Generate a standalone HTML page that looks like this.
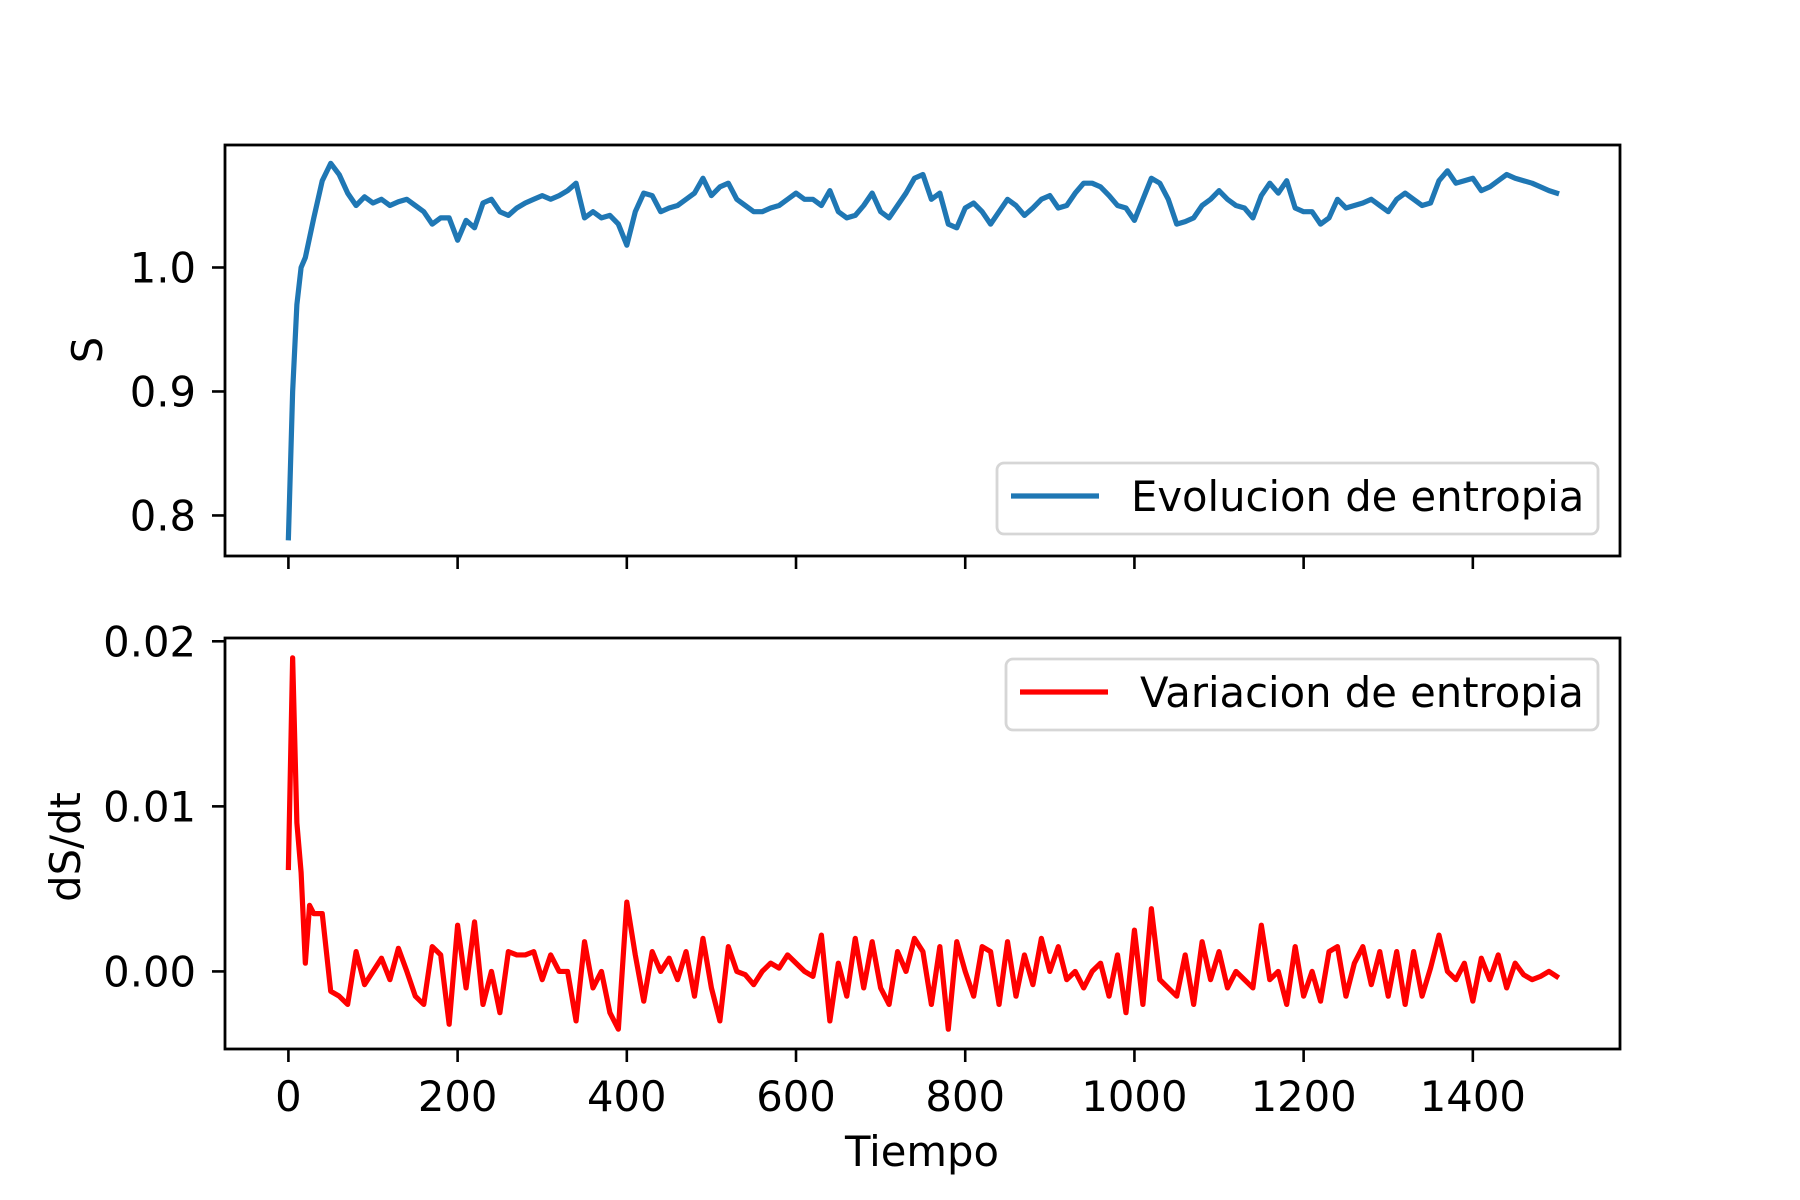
<!DOCTYPE html>
<html><head><meta charset="utf-8"><style>
html,body{margin:0;padding:0;background:#fff;}
svg{display:block;font-family:"DejaVu Sans","Liberation Sans",sans-serif;}
</style></head><body>
<svg id="fig" width="1800" height="1200" viewBox="0 0 1800 1200">
<rect width="1800" height="1200" fill="#fff"/>
<g id="top"></g>
<g id="bot"></g>
<text x="922" y="1166" font-size="41.7" text-anchor="middle">Tiempo</text>
<text transform="translate(102,350) rotate(-90)" font-size="41.7" text-anchor="middle">S</text>
<text transform="translate(80,847) rotate(-90)" font-size="41.7" text-anchor="middle">dS/dt</text>
</svg>
<script>
const sTimes=[0,5,10,15,20,30,40,50,60,70,80,90,100,110,120,130,140,150,160,170,180,190,200,210,220,230,240,250,260,270,280,290,300,310,320,330,340,350,360,370,380,390,400,410,420,430,440,450,460,470,480,490,500,510,520,530,540,550,560,570,580,590,600,610,620,630,640,650,660,670,680,690,700,710,720,730,740,750,760,770,780,790,800,810,820,830,840,850,860,870,880,890,900,910,920,930,940,950,960,970,980,990,1000,1010,1020,1030,1040,1050,1060,1070,1080,1090,1100,1110,1120,1130,1140,1150,1160,1170,1180,1190,1200,1210,1220,1230,1240,1250,1260,1270,1280,1290,1300,1310,1320,1330,1340,1350,1360,1370,1380,1390,1400,1410,1420,1430,1440,1450,1460,1470,1480,1490,1499];
const sValues=[0.782,0.90,0.97,1.0,1.008,1.04,1.07,1.084,1.075,1.06,1.05,1.057,1.052,1.055,1.05,1.053,1.055,1.05,1.045,1.035,1.04,1.04,1.022,1.038,1.032,1.052,1.055,1.045,1.042,1.048,1.052,1.055,1.058,1.055,1.058,1.062,1.068,1.04,1.045,1.04,1.042,1.035,1.018,1.045,1.06,1.058,1.045,1.048,1.05,1.055,1.06,1.072,1.058,1.065,1.068,1.055,1.05,1.045,1.045,1.048,1.05,1.055,1.06,1.055,1.055,1.05,1.062,1.045,1.04,1.042,1.05,1.06,1.045,1.04,1.05,1.06,1.072,1.075,1.055,1.06,1.035,1.032,1.048,1.052,1.045,1.035,1.045,1.055,1.05,1.042,1.048,1.055,1.058,1.048,1.05,1.06,1.068,1.068,1.065,1.058,1.05,1.048,1.038,1.055,1.072,1.068,1.055,1.035,1.037,1.04,1.05,1.055,1.062,1.055,1.05,1.048,1.04,1.058,1.068,1.06,1.07,1.048,1.045,1.045,1.035,1.04,1.055,1.048,1.05,1.052,1.055,1.05,1.045,1.055,1.06,1.055,1.05,1.052,1.07,1.078,1.068,1.07,1.072,1.062,1.065,1.07,1.075,1.072,1.07,1.068,1.065,1.062,1.06];
const dTimes=[0,5,10,15,20,25,30,40,50,60,70,80,90,100,110,120,130,140,150,160,170,180,190,200,210,220,230,240,250,260,270,280,290,300,310,320,330,340,350,360,370,380,390,400,410,420,430,440,450,460,470,480,490,500,510,520,530,540,550,560,570,580,590,600,610,620,630,640,650,660,670,680,690,700,710,720,730,740,750,760,770,780,790,800,810,820,830,840,850,860,870,880,890,900,910,920,930,940,950,960,970,980,990,1000,1010,1020,1030,1040,1050,1060,1070,1080,1090,1100,1110,1120,1130,1140,1150,1160,1170,1180,1190,1200,1210,1220,1230,1240,1250,1260,1270,1280,1290,1300,1310,1320,1330,1340,1350,1360,1370,1380,1390,1400,1410,1420,1430,1440,1450,1460,1470,1480,1490,1499];
const dValues=[0.0063,0.019,0.009,0.006,0.0005,0.004,0.0035,0.0035,-0.0012,-0.0015,-0.002,0.0012,-0.0008,0.0,0.0008,-0.0005,0.0014,0.0,-0.0015,-0.002,0.0015,0.001,-0.0032,0.0028,-0.001,0.003,-0.002,0.0,-0.0025,0.0012,0.001,0.001,0.0012,-0.0005,0.001,0.0,0.0,-0.003,0.0018,-0.001,0.0,-0.0025,-0.0035,0.0042,0.001,-0.0018,0.0012,0.0,0.0008,-0.0005,0.0012,-0.0015,0.002,-0.001,-0.003,0.0015,0.0,-0.0002,-0.0008,0.0,0.0005,0.0002,0.001,0.0005,0.0,-0.0003,0.0022,-0.003,0.0005,-0.0015,0.002,-0.001,0.0018,-0.001,-0.002,0.0012,0.0,0.002,0.0012,-0.002,0.0015,-0.0035,0.0018,0.0,-0.0015,0.0015,0.0012,-0.002,0.0018,-0.0015,0.001,-0.0008,0.002,0.0,0.0015,-0.0005,0.0,-0.001,0.0,0.0005,-0.0015,0.001,-0.0025,0.0025,-0.002,0.0038,-0.0005,-0.001,-0.0015,0.001,-0.002,0.0018,-0.0005,0.0012,-0.001,0.0,-0.0005,-0.001,0.0028,-0.0005,0.0,-0.002,0.0015,-0.0015,0.0,-0.0018,0.0012,0.0015,-0.0015,0.0005,0.0015,-0.0008,0.0012,-0.0015,0.0012,-0.002,0.0012,-0.0015,0.0002,0.0022,0.0,-0.0005,0.0005,-0.0018,0.0008,-0.0005,0.001,-0.001,0.0005,-0.0002,-0.0005,-0.0003,0.0,-0.0003];
const xTicks=[0,200,400,600,800,1000,1200,1400];
const xTickLabels=["0","200","400","600","800","1000","1200","1400"];
const sTicks=[0.8,0.9,1.0];
const sTickLabels=["0.8","0.9","1.0"];
const dTicks=[0.0,0.01,0.02];
const dTickLabels=["0.00","0.01","0.02"];

const NS="http://www.w3.org/2000/svg";
const L=225,R=1620,XMIN=-74.95,XMAX=1573.95;
function xs(v){return L+(v-XMIN)/(XMAX-XMIN)*(R-L);}
function mk(tag,attrs,parent){const e=document.createElementNS(NS,tag);for(const k in attrs)e.setAttribute(k,attrs[k]);parent.appendChild(e);return e;}

function drawAxes(g,top,bot,ymin,ymax,yt,ytl,times,vals,color,showX,legendText,legY){
  const ys=v=>bot-(v-ymin)/(ymax-ymin)*(bot-top);
  let d="";
  for(let i=0;i<times.length;i++){d+=(i?"L":"M")+xs(times[i]).toFixed(2)+","+ys(vals[i]).toFixed(2);}
  const p=mk("path",{d:d,fill:"none",stroke:color,"stroke-width":5.2,"stroke-linejoin":"round","stroke-linecap":"square"},g);
  
  
  const fr=mk("rect",{x:L,y:top,width:R-L,height:bot-top,fill:"none",stroke:"#000","stroke-width":2.8},g);
  
  
  for(let i=0;i<xTicks.length;i++){
    const x=xs(xTicks[i]);
    const t=mk("line",{x1:x,x2:x,y1:bot,y2:bot+13,stroke:"#000","stroke-width":2.6},g);
    
    
    if(showX){
      const tl=mk("text",{x:x,y:bot+62,"font-size":41.7,"text-anchor":"middle"},g);
      tl.textContent=xTickLabels[i];
      
      
    }
  }
  for(let i=0;i<yt.length;i++){
    const y=ys(yt[i]);
    const t=mk("line",{x1:L-13,x2:L,y1:y,y2:y,stroke:"#000","stroke-width":2.6},g);
    
    
    const tl=mk("text",{x:L-29,y:y+15,"font-size":41.7,"text-anchor":"end"},g);
    tl.textContent=ytl[i];
    
    
  }
  const lg=mk("g",{},g);
  
  
  const bx=mk("rect",{x:legY[0],y:legY[1],width:1598-legY[0],height:71,rx:7,fill:"#fff","fill-opacity":0.8,stroke:"#d6d6d6","stroke-width":2.8},lg);
  
  
  const ll=mk("line",{x1:legY[0]+14,x2:legY[0]+102,y1:legY[1]+33,y2:legY[1]+33,stroke:color,"stroke-width":5.2},lg);
  
  
  const lt=mk("text",{x:legY[0]+134,y:legY[1]+48,"font-size":41.7},lg);
  lt.textContent=legendText;
  
  
}
drawAxes(document.getElementById("top"),145,556,0.7673,1.0988,sTicks,sTickLabels,sTimes,sValues,"#1f77b4",false,"Evolucion de entropia",[997,463]);
drawAxes(document.getElementById("bot"),638,1049,-0.0047,0.0202,dTicks,dTickLabels,dTimes,dValues,"#ff0000",true,"Variacion de entropia",[1006,659]);
</script>
</body></html>
